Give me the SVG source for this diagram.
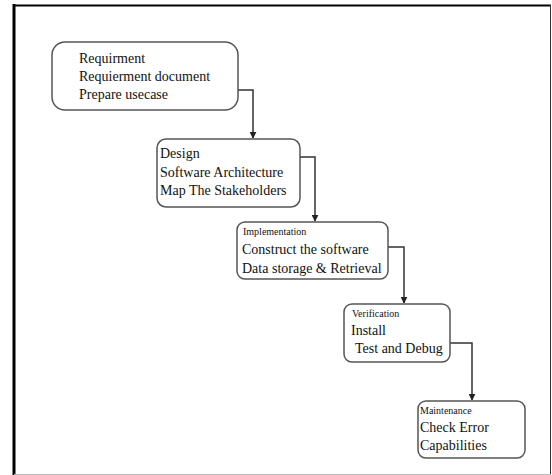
<svg xmlns="http://www.w3.org/2000/svg" width="552" height="475" viewBox="0 0 552 475">
<defs>
<marker id="arr" viewBox="0 0 10 10" refX="9" refY="5" markerWidth="7" markerHeight="7" markerUnits="userSpaceOnUse" orient="auto">
<path d="M0,0 L10,5 L0,10 z" fill="#222"/>
</marker>
<style>
.box{fill:#fff;stroke:#555;stroke-width:1.5}
.t{font-family:"Liberation Serif","Times New Roman",serif;font-size:14px;fill:#111}
.s{font-family:"Liberation Serif","Times New Roman",serif;font-size:10px;fill:#111}
.c{fill:none;stroke:#333;stroke-width:1.5;marker-end:url(#arr)}
</style>
</defs>
<rect x="0" y="0" width="552" height="475" fill="#fff"/>
<g id="frame">
<line x1="14" y1="4" x2="14" y2="475" stroke="#000" stroke-width="3"/>
<line x1="13" y1="5.5" x2="551" y2="5.5" stroke="#000" stroke-width="2"/>
<line x1="550.5" y1="5" x2="550.5" y2="474" stroke="#333" stroke-width="1"/>
<line x1="14" y1="474.5" x2="551" y2="474.5" stroke="#bbb" stroke-width="1"/>
</g>
<g id="connectors">
<path class="c" d="M238,90 H253 V138"/>
<path class="c" d="M300,157 H315 V221"/>
<path class="c" d="M388,247 H404 V303"/>
<path class="c" d="M450,343 H472 V400"/>
</g>
<g id="n1">
<rect class="box" x="52" y="42" width="186" height="68" rx="13"/>
<text class="t" x="79" y="63">Requirment</text>
<text class="t" x="79" y="81">Requierment document</text>
<text class="t" x="79" y="99">Prepare usecase</text>
</g>
<g id="n2">
<rect class="box" x="157" y="139" width="143" height="68" rx="9"/>
<text class="t" x="160" y="158">Design</text>
<text class="t" x="160" y="177">Software Architecture</text>
<text class="t" x="160" y="195">Map The Stakeholders</text>
</g>
<g id="n3">
<rect class="box" x="237" y="222" width="151" height="57" rx="8"/>
<text class="s" x="243" y="235">Implementation</text>
<text class="t" x="242" y="254">Construct the software</text>
<text class="t" x="242" y="273">Data storage &amp; Retrieval</text>
</g>
<g id="n4">
<rect class="box" x="344" y="304" width="106" height="58" rx="8"/>
<text class="s" x="352" y="317">Verification</text>
<text class="t" x="351" y="335">Install</text>
<text class="t" x="355" y="353">Test and Debug</text>
</g>
<g id="n5">
<rect class="box" x="418" y="401" width="107" height="57" rx="8"/>
<text class="s" x="420" y="414">Maintenance</text>
<text class="t" x="420" y="432">Check Error</text>
<text class="t" x="420" y="450">Capabilities</text>
</g>
</svg>
